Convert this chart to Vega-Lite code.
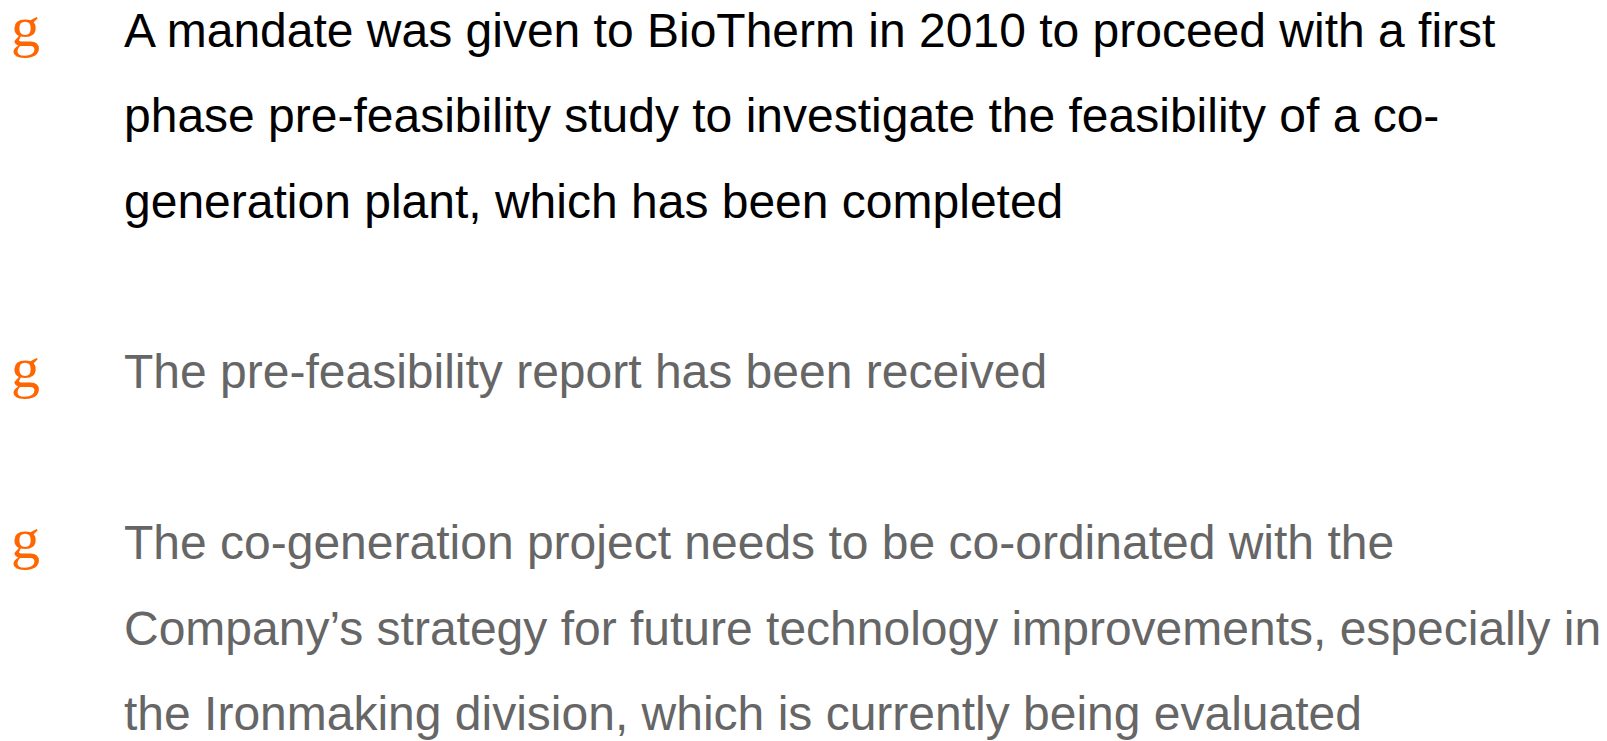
{
  "$schema": "https://vega.github.io/schema/vega-lite/v6.json",
  "width": 1607,
  "height": 741,
  "autosize": {"type": "fit", "contains": "padding"},
  "padding": 0,
  "background": "#ffffff",
  "config": {"view": {"stroke": null}},
  "data": {"values": [
    {"line": 0, "col": 0, "text": "g", "kind": "bullet"},
    {"line": 4, "col": 0, "text": "g", "kind": "bullet"},
    {"line": 6, "col": 0, "text": "g", "kind": "bullet"},
    {"line": 0, "col": 1, "text": "A mandate was given to BioTherm in 2010 to proceed with a first", "kind": "dark"},
    {"line": 1, "col": 1, "text": "phase pre-feasibility study to investigate the feasibility of a co-", "kind": "dark"},
    {"line": 2, "col": 1, "text": "generation plant, which has been completed", "kind": "dark"},
    {"line": 4, "col": 1, "text": "The pre-feasibility report has been received", "kind": "grey"},
    {"line": 6, "col": 1, "text": "The co-generation project needs to be co-ordinated with the", "kind": "grey"},
    {"line": 7, "col": 1, "text": "Company’s strategy for future technology improvements, especially in", "kind": "grey"},
    {"line": 8, "col": 1, "text": "the Ironmaking division, which is currently being evaluated", "kind": "grey"}
  ]},
  "encoding": {
    "x": {"field": "col", "type": "quantitative", "scale": {"domain": [-0.0973, 14.124], "nice": false, "zero": false}, "axis": null},
    "y": {"field": "line", "type": "quantitative", "scale": {"domain": [-0.4884, 8.1279], "nice": false, "zero": false, "reverse": true}, "axis": null},
    "text": {"field": "text", "type": "nominal"},
    "color": {"field": "kind", "type": "nominal", "scale": {"domain": ["bullet", "dark", "grey"], "range": ["#ff6600", "#000000", "#666666"]}, "legend": null}
  },
  "layer": [
    {
      "transform": [{"filter": "datum.kind === 'bullet'"}],
      "mark": {"type": "text", "align": "left", "baseline": "alphabetic", "font": "Liberation Serif", "fontSize": 58, "dy": -1}
    },
    {
      "transform": [{"filter": "datum.kind !== 'bullet'"}],
      "mark": {"type": "text", "align": "left", "baseline": "alphabetic", "font": "Liberation Sans", "fontSize": 48}
    }
  ]
}
